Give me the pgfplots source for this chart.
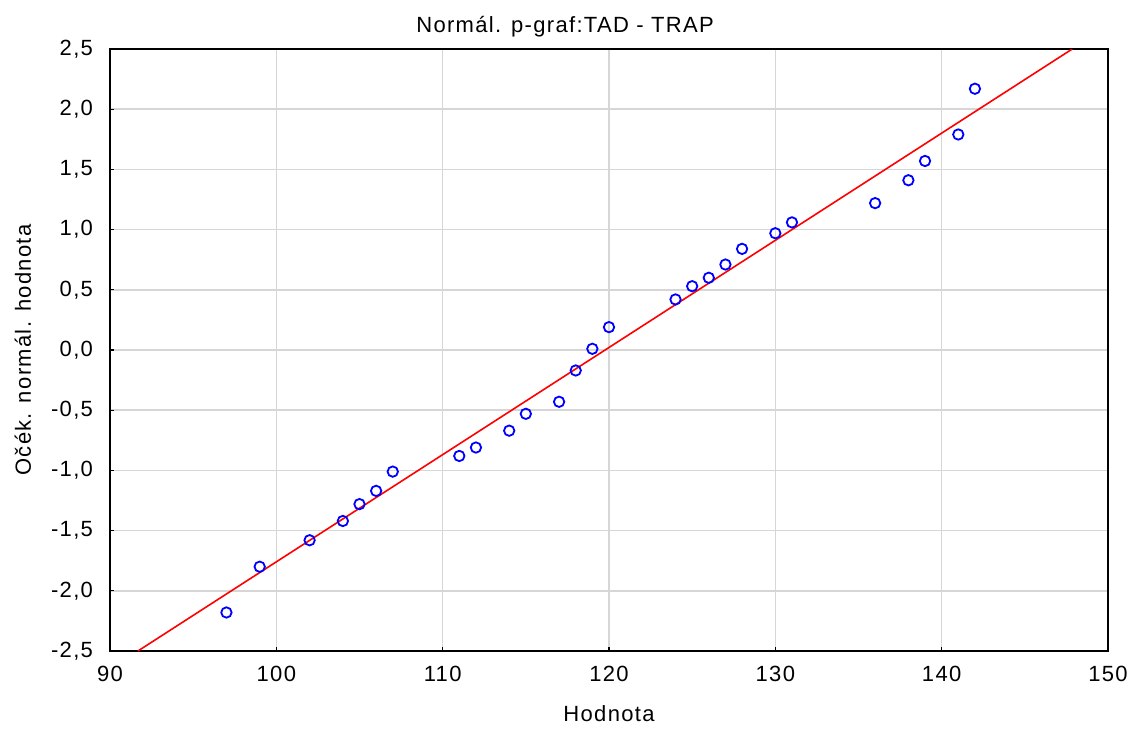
\documentclass[border=0pt]{standalone}
\usepackage{pgfplots}
\pgfplotsset{compat=1.18}
\usepackage{fontspec}
\setmainfont[LetterSpace=6]{Liberation Sans}
\begin{document}
\begin{tikzpicture}
\useasboundingbox (-55pt,-39pt) rectangle (513.5pt,325.5pt);
\begin{axis}[
  at={(0,0)}, anchor=south west,
  scale only axis, width=499pt, height=301pt,
  xmin=90, xmax=150, ymin=-2.5, ymax=2.5,
  xtick={90,100,...,150},
  ytick={-2.5,-2,...,2.5},
  font=\fontsize{11}{13}\selectfont,
  /pgf/number format/assume math mode=true,
  yticklabel style={/pgf/number format/fixed, /pgf/number format/fixed zerofill, /pgf/number format/precision=1, /pgf/number format/use comma, xshift=-5pt},
  xticklabel style={yshift=-4pt},
  tick align=inside, major tick length=2pt,
  xtick pos=bottom, ytick pos=left,
  axis line style={black, line width=0.9pt},
  tick style={black, line width=0.6pt},
  grid=major,
  major grid style={color=black!16, line width=0.8pt},
  title={Normál. p-graf:TAD - TRAP},
  title style={at={(0.456,1.0067)}, anchor=base},
  xlabel={Hodnota},
  xlabel style={at={(0.5,-0.1163)}, anchor=base},
  ylabel={Očék. normál. hodnota},
  ylabel style={at={(-0.0792,0.5)}, anchor=base},
]
\addplot[red, line width=0.8pt] coordinates {(91.68,-2.5) (147.85,2.5)};
\addplot[only marks, mark=o, mark size=2.6pt, blue, mark options={line width=0.9pt}] coordinates {
(97,-2.18) (99,-1.80) (102,-1.58) (104,-1.42) (105,-1.28) (106,-1.17) (107,-1.01)
(111,-0.88) (112,-0.81) (114,-0.67) (115,-0.53) (117,-0.43) (118,-0.17) (119,0.01)
(120,0.19) (124,0.42) (125,0.53) (126,0.60) (127,0.71) (128,0.84) (130,0.97)
(131,1.06) (136,1.22) (138,1.41) (139,1.57) (141,1.79) (142,2.17)
};
\end{axis}
\end{tikzpicture}
\end{document}
